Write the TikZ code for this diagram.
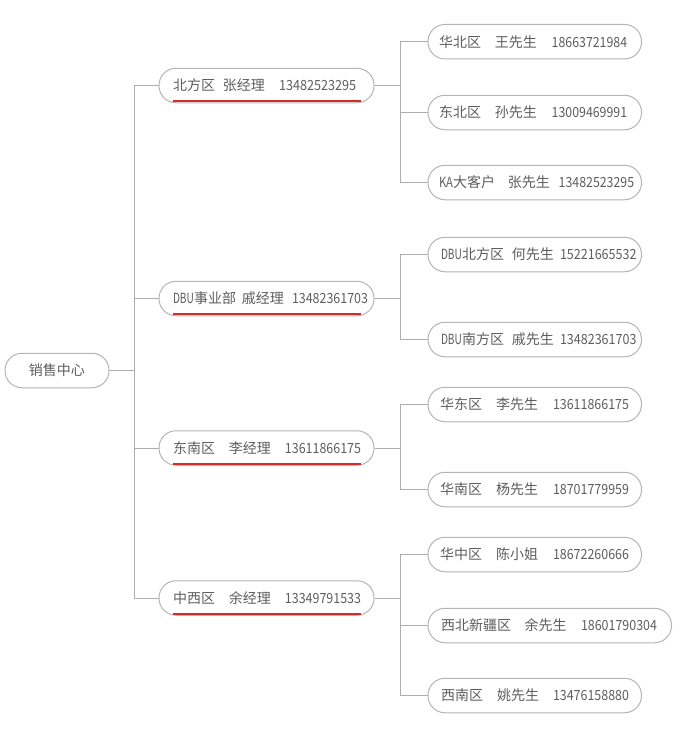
\documentclass[tikz,border=0pt]{standalone}
\usepackage{fontspec}
\setmainfont{Noto Sans CJK SC}
\usepackage{graphicx}
\definecolor{txt}{HTML}{5E5E5E}
\definecolor{bord}{HTML}{B5B5B5}
\definecolor{conn}{HTML}{ADADAD}
\definecolor{redl}{HTML}{D42A2A}
\newcommand\segw[2]{\makebox[#1pt][l]{#2}}
\newcommand\numw[2]{\resizebox{#1pt}{\height}{#2}}
\begin{document}
\begin{tikzpicture}[x=1pt,y=-1pt,
  pill/.style={draw=bord, line width=1pt, rounded corners=17pt, fill=white,
    minimum height=34.5pt, inner xsep=0pt, inner ysep=0pt, align=left,
    text=txt, font=\fontsize{14}{16}\selectfont},
  rootbox/.style={pill, text width=104pt, align=center},
  lonebox/.style={pill, text width=215pt},
  ltwobox/.style={pill, text width=213.5pt},
  lwidebox/.style={pill, text width=243.5pt},
  conn/.style={draw=conn, line width=1pt},
  redline/.style={draw=redl, line width=2pt}]
\useasboundingbox (0,0) rectangle (680,732);

% root
\node[rootbox] (root) at (57,370.5) {销售中心};

% level 1
\node[lonebox] (b1) at (266.5,85.5) {\hspace*{14pt}\segw{50}{北方区}\segw{56}{张经理}\numw{77}{13482523295}};
\node[lonebox] (b2) at (266.5,298.5) {\hspace*{14pt}\segw{69}{\resizebox{21pt}{\height}{DBU}事业部}\segw{50}{戚经理}\numw{76}{13482361703}};
\node[lonebox] (b3) at (266.5,448) {\hspace*{14pt}\segw{56}{东南区}\segw{56}{李经理}\numw{76}{13611866175}};
\node[lonebox] (b4) at (266.5,598) {\hspace*{14pt}\segw{56}{中西区}\segw{56}{余经理}\numw{76}{13349791533}};

% level 2
\node[ltwobox] (c1) at (534.75,41.7) {\hspace*{11pt}\segw{56}{华北区}\segw{56.7}{王先生}\numw{75.5}{18663721984}};
\node[ltwobox] (c2) at (534.75,112.5) {\hspace*{11pt}\segw{56}{东北区}\segw{56.7}{孙先生}\numw{75.5}{13009469991}};
\node[ltwobox] (c3) at (534.75,182.5) {\hspace*{11pt}\segw{69}{\resizebox{14pt}{\height}{KA}大客户}\segw{50.7}{张先生}\numw{75.5}{13482523295}};
\node[ltwobox] (c4) at (534.75,254.5) {\hspace*{13pt}\segw{71}{\resizebox{21pt}{\height}{DBU}北方区}\segw{48}{何先生}\numw{76.5}{15221665532}};
\node[ltwobox] (c5) at (534.75,339.5) {\hspace*{13pt}\segw{71}{\resizebox{21pt}{\height}{DBU}南方区}\segw{48}{戚先生}\numw{76.5}{13482361703}};
\node[ltwobox] (c6) at (534.75,404.5) {\hspace*{12pt}\segw{56}{华东区}\segw{57}{李先生}\numw{76}{13611866175}};
\node[ltwobox] (c7) at (534.75,489.5) {\hspace*{12pt}\segw{56}{华南区}\segw{57}{杨先生}\numw{76}{18701779959}};
\node[ltwobox] (c8) at (534.75,554.5) {\hspace*{12pt}\segw{56}{华中区}\segw{57}{陈小姐}\numw{76}{18672260666}};
\node[lwidebox] (c9) at (549.75,625.5) {\hspace*{13pt}\segw{83.7}{西北新疆区}\segw{56.3}{余先生}\numw{76}{18601790304}};
\node[ltwobox] (c10) at (534.75,695.5) {\hspace*{13pt}\segw{56}{西南区}\segw{56}{姚先生}\numw{76}{13476158880}};

% red underlines
\foreach \n in {b1,b2,b3,b4}
  \draw[redline] ([xshift=14pt,yshift=2pt]\n.south west) -- ([xshift=-14pt,yshift=2pt]\n.south east);

% connectors root -> level 1
\foreach \n in {b1,b2,b3,b4}
  \draw[conn] (root.east) -- ++(25,0) |- (\n.west);

% connectors level 1 -> level 2
\foreach \n in {c1,c2,c3}
  \draw[conn] (b1.east) -- ++(26,0) |- (\n.west);
\foreach \n in {c4,c5}
  \draw[conn] (b2.east) -- ++(26,0) |- (\n.west);
\foreach \n in {c6,c7}
  \draw[conn] (b3.east) -- ++(26,0) |- (\n.west);
\foreach \n in {c8,c9,c10}
  \draw[conn] (b4.east) -- ++(26,0) |- (\n.west);
\end{tikzpicture}
\end{document}
